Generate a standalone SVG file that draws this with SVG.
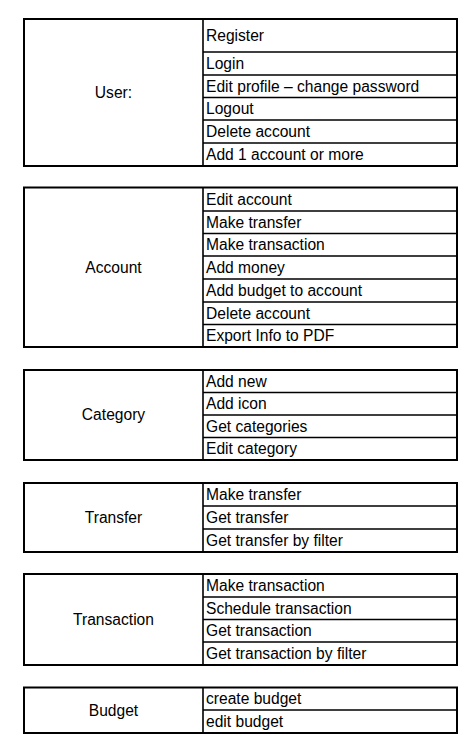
<svg xmlns="http://www.w3.org/2000/svg" width="476" height="752" viewBox="0 0 476 752">
<style>
.bg{fill:#ffffff}
.box{fill:none;stroke:#000;stroke-width:2}
.ln{stroke:#000;stroke-width:1.6;fill:none}
text{font-family:"Liberation Sans",Arial,sans-serif;font-size:15.6px;fill:#000}
.lbl{text-anchor:middle}
</style>
<rect class="bg" x="0" y="0" width="476" height="752"/>
<g id="user">
<rect class="box" x="24" y="19" width="433" height="147"/>
<path class="ln" d="M203 19V166M203 52H457M203 75H457M203 97.5H457M203 120H457M203 143H457"/>
<text class="lbl" x="113.5" y="98">User:</text>
<text x="206" y="41">Register</text>
<text x="206" y="69">Login</text>
<text x="206" y="91.5">Edit profile – change password</text>
<text x="206" y="114">Logout</text>
<text x="206" y="137">Delete account</text>
<text x="206" y="160">Add 1 account or more</text>
</g>
<g id="account">
<rect class="box" x="24" y="187.5" width="433" height="159.5"/>
<path class="ln" d="M203 187.5V347M203 211H457M203 233.5H457M203 256H457M203 279H457M203 302H457M203 324.5H457"/>
<text class="lbl" x="113.5" y="273">Account</text>
<text x="206" y="205">Edit account</text>
<text x="206" y="227.5">Make transfer</text>
<text x="206" y="250">Make transaction</text>
<text x="206" y="273">Add money</text>
<text x="206" y="296">Add budget to account</text>
<text x="206" y="318.5">Delete account</text>
<text x="206" y="341">Export Info to PDF</text>
</g>
<g id="category">
<rect class="box" x="24" y="370" width="433" height="90"/>
<path class="ln" d="M203 370V460M203 392.5H457M203 415H457M203 437.5H457"/>
<text class="lbl" x="113.5" y="420">Category</text>
<text x="206" y="386.5">Add new</text>
<text x="206" y="409">Add icon</text>
<text x="206" y="431.5">Get categories</text>
<text x="206" y="454">Edit category</text>
</g>
<g id="transfer">
<rect class="box" x="24" y="483" width="433" height="69"/>
<path class="ln" d="M203 483V552M203 506H457M203 529H457"/>
<text class="lbl" x="113.5" y="523">Transfer</text>
<text x="206" y="500">Make transfer</text>
<text x="206" y="523">Get transfer</text>
<text x="206" y="546">Get transfer by filter</text>
</g>
<g id="transaction">
<rect class="box" x="24" y="574" width="433" height="91"/>
<path class="ln" d="M203 574V665M203 597H457M203 619.5H457M203 642H457"/>
<text class="lbl" x="113.5" y="625">Transaction</text>
<text x="206" y="591">Make transaction</text>
<text x="206" y="613.5">Schedule transaction</text>
<text x="206" y="636">Get transaction</text>
<text x="206" y="659">Get transaction by filter</text>
</g>
<g id="budget">
<rect class="box" x="24" y="687.5" width="433" height="45.5"/>
<path class="ln" d="M203 687.5V733M203 710H457"/>
<text class="lbl" x="113.5" y="715.5">Budget</text>
<text x="206" y="704">create budget</text>
<text x="206" y="727">edit budget</text>
</g>
<g id="connectors"/>
</svg>
